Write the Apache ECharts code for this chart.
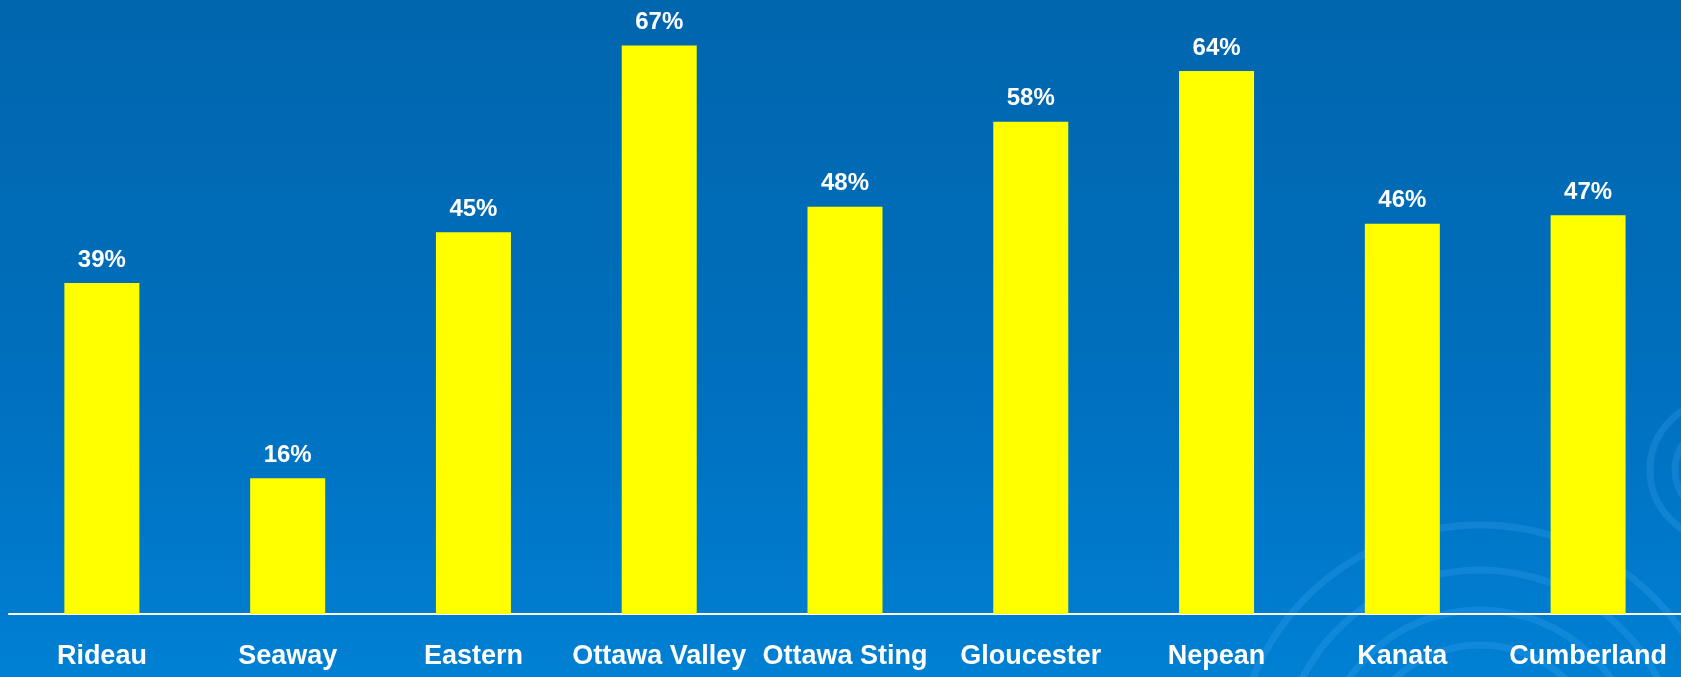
<!DOCTYPE html>
<html>
<head>
<meta charset="utf-8">
<script src="https://cdn.jsdelivr.net/npm/echarts@6/dist/echarts.min.js"></script>
<style>
  html, body { margin: 0; padding: 0; }
  #chart {
    width: 1681px; height: 677px;
    background: linear-gradient(to bottom, #0066ae 0%, #006fbd 55%, #0080d4 100%);
  }
</style>
</head>
<body>
<div id="chart"></div>
<script>
// clubs along the bottom
var clubs = ['Rideau', 'Seaway', 'Eastern', 'Ottawa Valley', 'Ottawa Sting',
             'Gloucester', 'Nepean', 'Kanata', 'Cumberland'];
// percentages shown above each bar
var percents = [39, 16, 45, 67, 48, 58, 64, 46, 47];

var fontMain = '"Liberation Sans", Arial, sans-serif';

//背景上的浅色圆圈装饰
function swirls() {
    var out = [];
    var rings = [
        { cx: 1480, cy: 770, r: 125 },
        { cx: 1480, cy: 770, r: 160 },
        { cx: 1480, cy: 770, r: 200 },
        { cx: 1480, cy: 770, r: 245 },
        { cx: 1720, cy: 470, r: 45 },
        { cx: 1720, cy: 470, r: 70 }
    ];
    for (var i in rings) {
        out.push({
            type: 'circle',
            silent: true,
            shape: rings[i],
            style: { fill: 'none', stroke: 'rgba(80,180,255,0.2)', lineWidth: 7 }
        });
    }
    return out;
}

var myChart = echarts.init(document.getElementById('chart'));
var option = {
    backgroundColor: 'transparent',
    animation: false,
    graphic: swirls(),
    grid: { left: 9, right: 0, top: 20, bottom: 63 },
    xAxis: {
        type: 'category',
        data: clubs,
        axisLine: { lineStyle: { color: '#ffffff', width: 2 } },
        axisTick: { show: false },
        axisLabel: {
            color: '#ffffff',
            fontFamily: fontMain,
            fontWeight: 'bold',
            fontSize: 27,
            margin: 29,
            interval: 0
        }
    },
    yAxis: {
        type: 'value',
        min: 0,
        max: 70,
        show: false,
        splitLine: { show: false }
    },
    series: [{
        type: 'bar',
        data: percents,
        barWidth: 75,
        itemStyle: { color: '#ffff00' },
        label: {
            show: true,
            position: 'top',
            distance: 11,
            color: '#ffffff',
            fontFamily: fontMain,
            fontWeight: 'bold',
            fontSize: 24,
            formatter: '{c}%'
        }
    }]
};
myChart.setOption(option);
</script>
</body>
</html>
